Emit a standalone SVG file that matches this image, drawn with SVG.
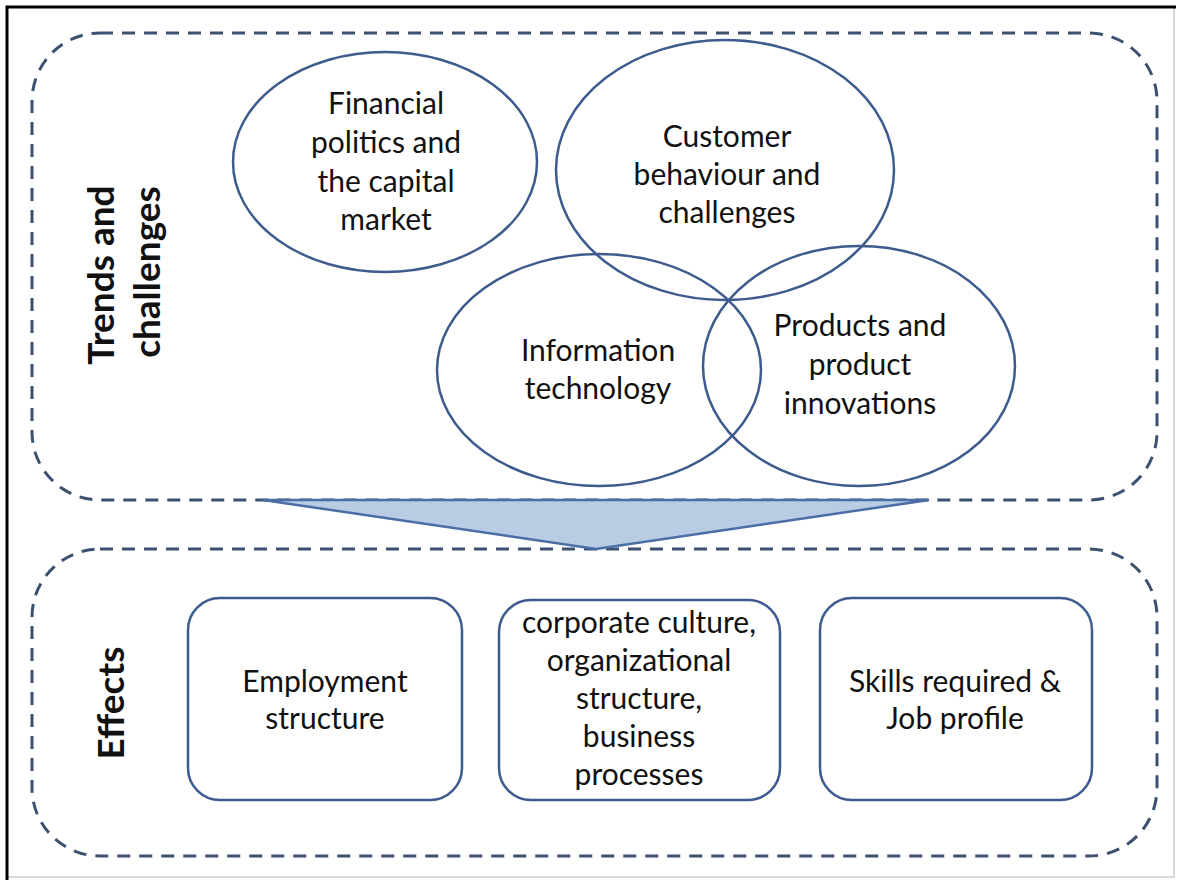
<svg xmlns="http://www.w3.org/2000/svg" width="1179" height="883" viewBox="0 0 1179 883">
  <style>
    .frame-dark { stroke: #000; stroke-width: 3; fill: none; }
    .frame-light { stroke: #d9d9d9; stroke-width: 2; fill: none; }
    .zone { fill: none; stroke: #3c5170; stroke-width: 3; stroke-dasharray: 13 9; }
    .topic { fill: none; stroke: #3d5b8c; stroke-width: 2.5; }
    .box { fill: #fff; stroke: #3d5b8c; stroke-width: 2.5; }
    .label { font-family: Lato, "Open Sans", "Liberation Sans", sans-serif; font-size: 30px; fill: #111; text-anchor: middle; }
    .side { font-family: Lato, "Open Sans", "Liberation Sans", sans-serif; font-size: 37px; font-weight: bold; fill: #111; text-anchor: middle; }
    .arrow { fill: #b8cce4; stroke: #4a6ea5; stroke-width: 2.5; stroke-linejoin: miter; }
  </style>

  <rect x="0" y="0" width="1179" height="883" fill="#fff"/>

  <!-- page frame -->
  <path class="frame-light" d="M1174 7 V877 H7"/>
  <path class="frame-dark" d="M7 880 V7 H1176"/>

  <!-- dashed zones -->
  <g id="zone-trends">
    <rect class="zone" x="32" y="33" width="1125" height="467" rx="68" ry="68"/>
    <text class="side" transform="translate(114 275) rotate(-90)">Trends and</text>
    <text class="side" transform="translate(160 272) rotate(-90)">challenges</text>
  </g>
  <g id="zone-effects">
    <rect class="zone" x="32" y="549" width="1125" height="307" rx="68" ry="68"/>
    <text class="side" transform="translate(124 703) rotate(-90)">Effects</text>
  </g>

  <!-- connectors -->
  <g id="connectors">
    <polygon class="arrow" points="263,500 929,500 596,549"/>
  </g>

  <!-- trend topics -->
  <g id="topic-financial">
    <ellipse class="topic" cx="385" cy="162" rx="152" ry="110"/>
    <text class="label" x="386" y="114">Financial</text>
    <text class="label" x="386" y="153">politics and</text>
    <text class="label" x="386" y="192">the capital</text>
    <text class="label" x="386" y="230">market</text>
  </g>
  <g id="topic-customer">
    <ellipse class="topic" cx="725" cy="170" rx="169" ry="130"/>
    <text class="label" x="727" y="147">Customer</text>
    <text class="label" x="727" y="185">behaviour and</text>
    <text class="label" x="727" y="223">challenges</text>
  </g>
  <g id="topic-it">
    <ellipse class="topic" cx="599" cy="370" rx="162" ry="116"/>
    <text class="label" x="598" y="361">Information</text>
    <text class="label" x="598" y="399">technology</text>
  </g>
  <g id="topic-products">
    <ellipse class="topic" cx="859" cy="366" rx="156" ry="120"/>
    <text class="label" x="860" y="336">Products and</text>
    <text class="label" x="860" y="375">product</text>
    <text class="label" x="860" y="414">innovations</text>
  </g>

  <!-- effects -->
  <g id="effect-employment">
    <rect class="box" x="188" y="598" width="274" height="202" rx="32" ry="32"/>
    <text class="label" x="325" y="692">Employment</text>
    <text class="label" x="325" y="729">structure</text>
  </g>
  <g id="effect-culture">
    <rect class="box" x="499" y="600" width="281" height="200" rx="32" ry="32"/>
    <text class="label" x="639" y="633">corporate culture,</text>
    <text class="label" x="639" y="671">organizational</text>
    <text class="label" x="639" y="709">structure,</text>
    <text class="label" x="639" y="747">business</text>
    <text class="label" x="639" y="785">processes</text>
  </g>
  <g id="effect-skills">
    <rect class="box" x="820" y="598" width="272" height="202" rx="32" ry="32"/>
    <text class="label" x="955" y="692">Skills required &amp;</text>
    <text class="label" x="955" y="729">Job profile</text>
  </g>
</svg>
